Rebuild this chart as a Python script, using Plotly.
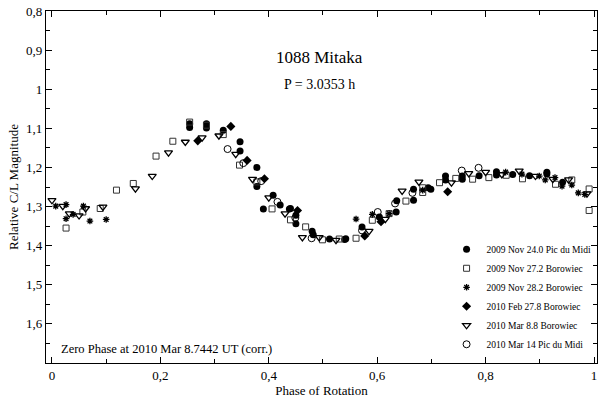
import plotly.graph_objects as go

# ---- data (phase, relative magnitude) ----
a_name = "2009 Nov 24.0 Pic du Midi"
a_x = [0.254, 0.254, 0.285, 0.285, 0.316, 0.347, 0.347, 0.378, 0.378, 0.39, 0.408, 0.421, 0.438, 0.44, 0.45, 0.45,
       0.48, 0.482, 0.512, 0.54, 0.542, 0.572, 0.604, 0.635, 0.636, 0.667, 0.667, 0.694, 0.699, 0.726, 0.726, 0.757,
       0.757, 0.788, 0.82, 0.82, 0.85, 0.881, 0.913, 0.913, 0.942]
a_y = [1.088, 1.098, 1.088, 1.099, 1.105, 1.134, 1.158, 1.2, 1.249, 1.306, 1.271, 1.296, 1.306, 1.305, 1.322, 1.344,
       1.363, 1.372, 1.383, 1.384, 1.382, 1.352, 1.327, 1.314, 1.285, 1.256, 1.284, 1.252, 1.256, 1.222, 1.232, 1.222,
       1.23, 1.221, 1.211, 1.219, 1.218, 1.221, 1.212, 1.217, 1.238]

b_name = "2009 Nov 27.2 Borowiec"
b_x = [0.026, 0.057, 0.089, 0.119, 0.15, 0.192, 0.223, 0.254, 0.285, 0.316, 0.346, 0.378, 0.406, 0.44, 0.468, 0.499,
       0.53, 0.561, 0.591, 0.622, 0.653, 0.684, 0.684, 0.715, 0.745, 0.776, 0.806, 0.838, 0.868, 0.929, 0.959, 0.991,
       0.991]
b_y = [1.355, 1.314, 1.305, 1.258, 1.241, 1.171, 1.133, 1.084, 1.092, 1.116, 1.194, 1.237, 1.306, 1.334, 1.352, 1.385,
       1.383, 1.381, 1.335, 1.318, 1.286, 1.252, 1.264, 1.239, 1.228, 1.23, 1.226, 1.22, 1.229, 1.243, 1.232, 1.255,
       1.31]

c_name = "2009 Nov 28.2 Borowiec"
c_x = [0.007, 0.026, 0.026, 0.039, 0.058, 0.07, 0.1, 0.561, 0.591, 0.622, 0.684, 0.837, 0.867, 0.899, 0.91, 0.928,
       0.941, 0.959, 0.971, 0.983]
c_y = [1.299, 1.295, 1.331, 1.320, 1.299, 1.337, 1.333, 1.332, 1.32, 1.318, 1.258, 1.212, 1.217, 1.222, 1.232, 1.226,
       1.248, 1.245, 1.265, 1.269]

d_name = "2010 Feb 27.8 Borowiec"
d_x = [0.269, 0.33, 0.36, 0.392, 0.453, 0.577, 0.607, 0.73]
d_y = [1.132, 1.095, 1.182, 1.229, 1.31, 1.375, 1.339, 1.262]

e_name = "2010 Mar 8.8 Borowiec"
e_x = [0.0, 0.02, 0.032, 0.05, 0.062, 0.094, 0.154, 0.185, 0.215, 0.246, 0.277, 0.308, 0.339, 0.37, 0.4, 0.43,
       0.462, 0.493, 0.524, 0.585, 0.615, 0.646, 0.677, 0.737, 0.769, 0.8, 0.83, 0.862, 0.892, 0.924, 0.953, 0.987]
e_y = [1.284, 1.299, 1.318, 1.323, 1.305, 1.301, 1.254, 1.222, 1.162, 1.135, 1.124, 1.119, 1.166, 1.23, 1.277, 1.318,
       1.379, 1.379, 1.386, 1.363, 1.332, 1.26, 1.237, 1.239, 1.215, 1.212, 1.218, 1.209, 1.222, 1.23, 1.231, 1.267]

f_name = "2010 Mar 14 Pic du Midi"
f_x = [0.324, 0.353, 0.386, 0.416, 0.449, 0.479, 0.572, 0.601, 0.633, 0.665, 0.756, 0.787]
f_y = [1.153, 1.189, 1.235, 1.288, 1.329, 1.381, 1.361, 1.314, 1.292, 1.265, 1.208, 1.201]

x_ticks = [0, 0.2, 0.4, 0.6, 0.8, 1]
x_ticktext = ["0", "0,2", "0,4", "0,6", "0,8", "1"]
y_ticks = [0.8, 0.9, 1.0, 1.1, 1.2, 1.3, 1.4, 1.5, 1.6]
y_ticktext = ["0,8", "0,9", "1", "1,1", "1,2", "1,3", "1,4", "1,5", "1,6"]

title_main = "1088 Mitaka"
title_period = "P = 3.0353 h"
zero_phase = "Zero Phase at 2010 Mar 8.7442 UT (corr.)"

FONT = "Liberation Serif"

series = [
    (a_name, a_x, a_y, dict(symbol="circle", size=7, color="black")),
    (b_name, b_x, b_y, dict(symbol="square-open", size=6, color="#333", line=dict(width=1))),
    (c_name, c_x, c_y, dict(symbol="asterisk-open", size=5.5, color="black", line=dict(width=1.3, color="black"))),
    (d_name, d_x, d_y, dict(symbol="diamond", size=7, color="black")),
    (e_name, e_x, e_y, dict(symbol="triangle-down-open", size=7, color="black", line=dict(width=1.3))),
    (f_name, f_x, f_y, dict(symbol="circle-open", size=7, color="black", line=dict(width=1))),
]

fig = go.Figure()
for name, xs, ys, mk in series:
    fig.add_trace(go.Scatter(x=xs, y=ys, mode="markers", name=name, marker=mk))

axis_common = dict(
    showline=True, linecolor="black", linewidth=1.2, mirror="ticks",
    ticks="inside", ticklen=6, tickcolor="black", tickwidth=1,
    showgrid=False, zeroline=False, ticklabeloverflow="allow",
    tickfont=dict(family=FONT, size=13, color="black"),
)

fig.update_layout(
    width=600, height=398,
    margin=dict(l=46, r=3, t=11, b=35),
    paper_bgcolor="white", plot_bgcolor="white",
    font=dict(family=FONT, color="black"),
    xaxis=dict(range=[-0.011, 1.0055], tickvals=x_ticks, ticktext=x_ticktext,
               minor=dict(tickmode="linear", tick0=0, dtick=0.1, ticks="inside", ticklen=4, tickcolor="black"),
               title=dict(text="Phase of Rotation", font=dict(family=FONT, size=13), standoff=1),
               **axis_common),
    yaxis=dict(range=[1.7, 0.8], tickvals=y_ticks, ticktext=y_ticktext,
               minor=dict(tickmode="linear", tick0=0.8, dtick=0.05, ticks="inside", ticklen=4, tickcolor="black"),
               title=dict(text="Relative C/L Magnitude", font=dict(family=FONT, size=13), standoff=4),
               **axis_common),
    legend=dict(x=0.727, y=0.012, xanchor="left", yanchor="bottom", bgcolor="rgba(0,0,0,0)",
                font=dict(family=FONT, size=9.5, color="black"), tracegroupgap=0, itemwidth=30),
    showlegend=True,
)

fig.add_annotation(text=title_main, x=0.497, y=0.869, xref="paper", yref="paper", showarrow=False,
                   font=dict(family=FONT, size=17), xanchor="center", yanchor="middle")
fig.add_annotation(text=title_period, x=0.497, y=0.79, xref="paper", yref="paper", showarrow=False,
                   font=dict(family=FONT, size=14), xanchor="center", yanchor="middle")
fig.add_annotation(text=zero_phase, x=0.023, y=0.04, xref="paper", yref="paper", showarrow=False,
                   font=dict(family=FONT, size=12.5), xanchor="left", yanchor="middle")

fig.write_html("out.html", config={"displayModeBar": False},
               post_script="document.body.style.margin='0';")
